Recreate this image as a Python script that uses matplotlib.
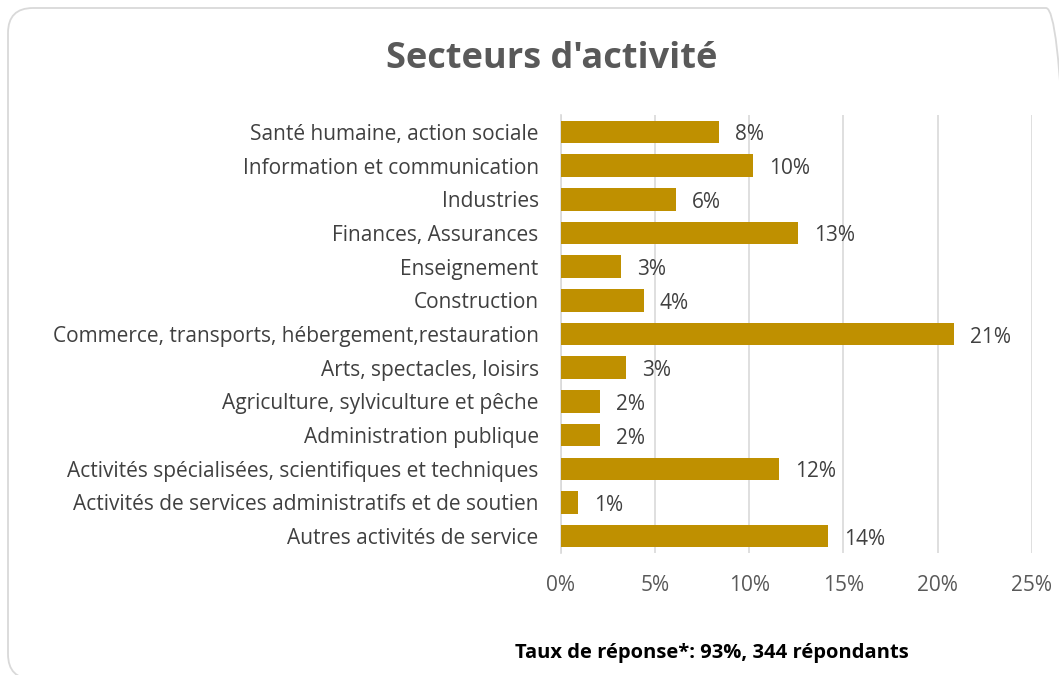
import matplotlib
matplotlib.use('Agg')
import matplotlib.pyplot as plt
from matplotlib.patches import FancyBboxPatch
from matplotlib.transforms import IdentityTransform
from matplotlib.ticker import FuncFormatter

# Data (top to bottom as shown)
categories = [
    "Santé humaine, action sociale",
    "Information et communication",
    "Industries",
    "Finances, Assurances",
    "Enseignement",
    "Construction",
    "Commerce, transports, hébergement,restauration",
    "Arts, spectacles, loisirs",
    "Agriculture, sylviculture et pêche",
    "Administration publique",
    "Activités spécialisées, scientifiques et techniques",
    "Activités de services administratifs et de soutien",
    "Autres activités de service",
]
values = [8.4, 10.2, 6.1, 12.6, 3.2, 4.4, 20.9, 3.45, 2.05, 2.05, 11.6, 0.9, 14.2]
xticks = [0, 5, 10, 15, 20, 25]

plt.rcParams['font.family'] = ['Open Sans', 'DejaVu Sans']

fig = plt.figure(figsize=(10.59, 6.75), dpi=100)
ax = fig.add_axes([0.5297, 0.1807, 0.4445, 0.6489])

# Rounded chart border (pixel coordinates, runs off the right/bottom edge)
border = FancyBboxPatch((8, -4), 1063, 671,
                        boxstyle="round,pad=0,rounding_size=25",
                        transform=IdentityTransform(), fill=False,
                        edgecolor='#d9d9d9', linewidth=1.3, zorder=0)
fig.patches.append(border)

y = list(range(len(categories)))
ax.barh(y, values, height=0.67, color='#BF9000', zorder=3)
ax.set_ylim(len(categories) - 0.5, -0.5)
ax.set_xlim(0, 25)
ax.set_yticks(y)
ax.set_yticklabels(categories, fontsize=15, color='#404040')
ax.set_xticks(xticks)
ax.xaxis.set_major_formatter(FuncFormatter(lambda v, p: f"{int(v)}%"))
ax.tick_params(axis='x', labelsize=15, labelcolor='#595959', length=0, pad=16)
ax.tick_params(axis='y', length=0, pad=16)

ax.grid(axis='x', color='#d9d9d9', linewidth=1.2, zorder=0)
for s in ['top', 'right', 'bottom']:
    ax.spines[s].set_visible(False)
ax.spines['left'].set_color('#d9d9d9')
ax.spines['left'].set_linewidth(1.2)

for yi, v in zip(y, values):
    ax.annotate(f"{round(v):.0f}%", (v, yi), xytext=(16, -3), textcoords='offset pixels',
                va='center', ha='left', fontsize=15, color='#404040')

fig.text(0.521, 0.912, "Secteurs d'activité", ha='center', va='center',
         fontsize=26, fontweight='bold', color='#595959')
fig.text(0.672, 0.033, "Taux de réponse*: 93%, 344 répondants", ha='center', va='center',
         fontsize=14.5, fontweight='bold', color='#000000')

fig.savefig('out.png', dpi=100)
